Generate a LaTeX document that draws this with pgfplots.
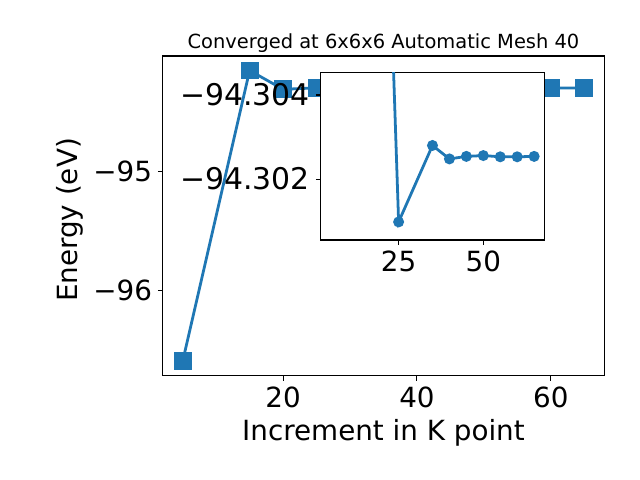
\documentclass[border=0pt]{standalone}
\usepackage{fontspec}
\setmainfont{DejaVu Sans}
\usepackage{pgfplots}
\usepackage{pgfplotstable}
\pgfplotsset{compat=1.18}
\definecolor{tabblue}{HTML}{1F77B4}

% total energy against k-point increment
\pgfplotstableread{
k     E
5   -96.597
15  -94.155
20  -94.313
25  -94.30098
35  -94.3028
40  -94.30248
45  -94.30254
50  -94.30256
55  -94.30253
60  -94.30253
65  -94.30254
}\energy

% zoomed part (from k = 20 on)
\pgfplotstableread{
k     E
20  -94.313
25  -94.30098
35  -94.3028
40  -94.30248
45  -94.30254
50  -94.30256
55  -94.30253
60  -94.30253
65  -94.30254
}\zoomed

\begin{document}
\begin{tikzpicture}
\useasboundingbox (0,0) rectangle (460.8pt,345.6pt);
\pgfplotsset{
  mpl/.style={
    scale only axis,
    axis line style={line width=0.8pt},
    tick align=outside,
    major tick length=3.5pt,
    every tick/.style={black, line width=0.8pt},
    xtick pos=bottom, ytick pos=left,
    /pgf/number format/assume math mode=true,
    ticklabel style={font=\fontsize{20}{22}\selectfont, inner sep=0pt},
    xticklabel style={anchor=base, yshift=-19.5pt},
    yticklabel style={anchor=east, xshift=-4pt},
    axis background/.style={fill=white},
  },
}
\begin{axis}[mpl,
  at={(117.1pt,75.1pt)}, anchor=south west,
  width=318pt, height=230.2pt,
  xmin=2, xmax=68, ymin=-96.719, ymax=-94.033,
  xtick={20,40,60}, xticklabels={20,40,60},
  ytick={-96,-95}, yticklabels={−96,−95},
  title={Converged at 6x6x6 Automatic Mesh 40},
  title style={at={(axis description cs:0.5,1)}, anchor=base, yshift=-0.7pt,
    font=\fontsize{14}{16}\selectfont},
  xlabel={Increment in K point},
  xlabel style={at={(axis description cs:0.5,0)}, anchor=base, yshift=-46.5pt,
    font=\fontsize{20}{22}\selectfont},
  ylabel={Energy (eV)},
  ylabel style={at={(axis description cs:0,0.5)}, anchor=base, yshift=61.2pt, xshift=-3pt,
    font=\fontsize{20}{22}\selectfont},
]
\addplot[tabblue, line width=2pt, mark=square*, mark size=5.4pt] table[x=k, y=E] {\energy};
\end{axis}

\begin{axis}[mpl,
  at={(230.9pt,172.8pt)}, anchor=south west,
  width=161pt, height=120.7pt,
  xmin=2, xmax=68, y dir=reverse,
  ymin=-94.30454, ymax=-94.30055,
  xtick={25,50}, xticklabels={25,50},
  ytick={-94.304,-94.302}, yticklabels={−94.304,−94.302},
  yticklabel style={font=\fontsize{21.5}{24}\selectfont},
]
\addplot[tabblue, line width=2pt, mark=*, mark size=2.9pt] table[x=k, y=E] {\zoomed};
\end{axis}
\end{tikzpicture}
\end{document}
